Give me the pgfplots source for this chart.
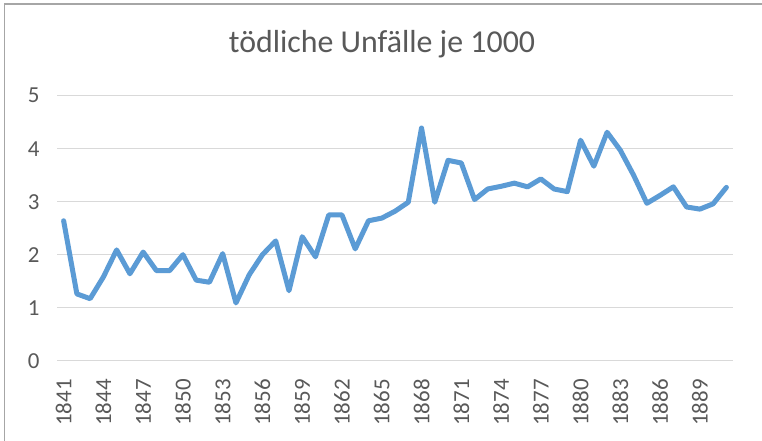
\documentclass[border=0pt]{standalone}
\usepackage{fontspec}
\setmainfont{Carlito}
\usepackage{pgfplots}
\pgfplotsset{compat=1.18}
\definecolor{txt}{HTML}{595959}
\definecolor{gridc}{HTML}{D9D9D9}
\definecolor{linec}{HTML}{5B9BD5}
\definecolor{brd}{HTML}{A6A6A6}
\begin{document}
\begin{tikzpicture}[x=1bp,y=1bp]
\useasboundingbox (0,0) rectangle (762,441);
\fill[white] (0,0) rectangle (762,441);
\draw[brd, line width=1.5bp] (4.5,0) -- (4.5,437) -- (762,437);
\node[txt, font=\fontsize{32}{38}\selectfont, anchor=base] at (382,388.7) {tödliche Unfälle je 1000};
\begin{axis}[
  at={(57bp,80.3bp)}, anchor=south west,
  scale only axis, width=676bp, height=265bp,
  xmin=1840.5, xmax=1891.5, ymin=0, ymax=5,
  ytick={0,1,2,3,4,5},
  xtick={1841,1844,...,1889},
  xticklabel style={rotate=90, anchor=east, font=\fontsize{23}{27}\selectfont, text=txt},
  yticklabel style={font=\fontsize{23}{27}\selectfont, text=txt, xshift=-14bp},
  xticklabel={\pgfmathprintnumber[1000 sep={},fixed]{\tick}},
  /pgf/number format/assume math mode=true,
  axis line style={draw=none},
  major tick length=0pt,
  ymajorgrids, grid style={gridc, line width=1.5bp},
  clip=false,
  xtick style={draw=none}, ytick style={draw=none},
  xticklabel shift=15bp,
]
\addplot[linec, line width=5bp, line join=round, line cap=round] coordinates {
(1841,2.64) (1842,1.26) (1843,1.17) (1844,1.58) (1845,2.09) (1846,1.64)
(1847,2.05) (1848,1.70) (1849,1.70) (1850,2.00) (1851,1.52) (1852,1.48)
(1853,2.02) (1854,1.09) (1855,1.62) (1856,2.00) (1857,2.26) (1858,1.32)
(1859,2.34) (1860,1.96) (1861,2.75) (1862,2.75) (1863,2.11) (1864,2.64)
(1865,2.69) (1866,2.82) (1867,2.99) (1868,4.39) (1869,2.99) (1870,3.78)
(1871,3.73) (1872,3.04) (1873,3.24) (1874,3.29) (1875,3.35) (1876,3.28)
(1877,3.43) (1878,3.24) (1879,3.19) (1880,4.16) (1881,3.67) (1882,4.31)
(1883,3.97) (1884,3.50) (1885,2.97) (1886,3.12) (1887,3.28) (1888,2.90)
(1889,2.86) (1890,2.96) (1891,3.27)
};
\end{axis}
\end{tikzpicture}
\end{document}
